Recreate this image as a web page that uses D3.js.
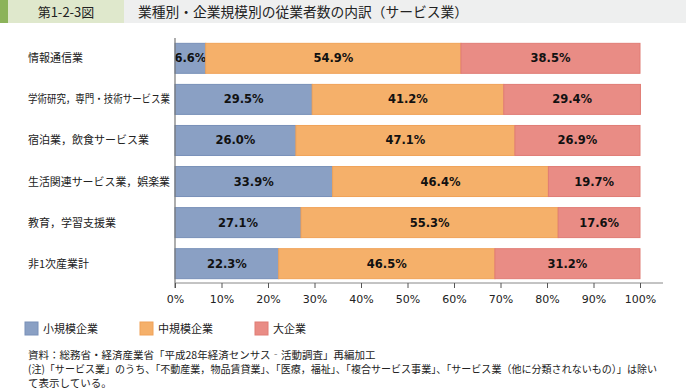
<!DOCTYPE html>
<html>
<head>
<meta charset="utf-8">
<script src="https://cdn.jsdelivr.net/npm/d3@7"></script>
<style>
  body { margin: 0; background: #fff; }
  svg { display: block; font-family: "Noto Sans CJK JP", "Noto Sans", sans-serif; }
</style>
</head>
<body>
<svg id="chart" width="686" height="392"></svg>
<script>
// data
const categories = ["情報通信業", "学術研究，専門・技術サービス業", "宿泊業，飲食サービス業",
  "生活関連サービス業，娯楽業", "教育，学習支援業", "非1次産業計"];
const small = [6.6, 29.5, 26.0, 33.9, 27.1, 22.3];
const medium = [54.9, 41.2, 47.1, 46.4, 55.3, 46.5];
const large = [38.5, 29.4, 26.9, 19.7, 17.6, 31.2];
const seriesNames = ["小規模企業", "中規模企業", "大企業"];
const colors = ["#8aa0c4", "#f5b06a", "#e98c85"];
const strokes = ["#7890b8", "#f0a258", "#e07c75"];
const ticks = [0, 10, 20, 30, 40, 50, 60, 70, 80, 90, 100];

const svg = d3.select("#chart");

// header
svg.append("rect").attr("x", 0).attr("y", 0).attr("width", 686).attr("height", 23).attr("fill", "#eeefef");
svg.append("rect").attr("x", 0).attr("y", 0).attr("width", 8).attr("height", 23).attr("fill", "#8cb35a");
svg.append("rect").attr("x", 8).attr("y", 0).attr("width", 116).attr("height", 23).attr("fill", "#dfe8cc");
svg.append("text").attr("x", 66).attr("y", 16.5).attr("text-anchor", "middle")
  .attr("font-size", 13).attr("fill", "#222").text("第1-2-3図");
svg.append("text").attr("x", 138).attr("y", 16.5)
  .attr("font-size", 13.5).attr("fill", "#222")
  .attr("textLength", 330).attr("lengthAdjust", "spacingAndGlyphs")
  .text("業種別・企業規模別の従業者数の内訳（サービス業）");

const x = d3.scaleLinear().domain([0, 100]).range([175, 640]);
const y = d3.scaleBand().domain(categories).range([38, 284]).paddingInner(0.27).paddingOuter(0.13);

const rows = categories.map((c, i) => ({ cat: c, vals: [small[i], medium[i], large[i]] }));

const g = svg.append("g");
rows.forEach(r => {
  let acc = 0;
  r.vals.forEach((v, k) => {
    const x0 = x(acc), x1 = x(acc + v);
    g.append("rect")
      .attr("x", x0).attr("y", y(r.cat))
      .attr("width", x1 - x0).attr("height", y.bandwidth())
      .attr("fill", colors[k]).attr("stroke", strokes[k]).attr("stroke-width", 1);
    g.append("text")
      .attr("x", (x0 + x1) / 2).attr("y", y(r.cat) + y.bandwidth() / 2 + 4)
      .attr("text-anchor", "middle").attr("font-size", 11.5).attr("font-weight", "bold")
      .attr("font-family", "DejaVu Sans, sans-serif").attr("fill", "#111")
      .text(v.toFixed(1) + "%");
    acc += v;
  });
  const lab = svg.append("text").attr("x", 28).attr("y", y(r.cat) + y.bandwidth() / 2 + 4)
    .attr("font-size", 11).attr("fill", "#222").text(r.cat);
  // long label is narrower in the original
  if (lab.node().getComputedTextLength() > 142) {
    lab.attr("textLength", 142).attr("lengthAdjust", "spacingAndGlyphs");
  }
});

// axes
svg.append("line").attr("x1", 175).attr("x2", 175).attr("y1", 38).attr("y2", 288)
  .attr("stroke", "#777").attr("stroke-width", 1.2);
svg.append("line").attr("x1", 175).attr("x2", 663).attr("y1", 283).attr("y2", 283)
  .attr("stroke", "#888").attr("stroke-width", 1);
const xAxis = svg.append("g").attr("transform", "translate(0,283)")
  .call(d3.axisBottom(x).tickValues(ticks).tickSize(5).tickFormat(d => d + "%"));
xAxis.select(".domain").remove();
xAxis.selectAll("line").attr("stroke", "#555");
xAxis.selectAll("text").attr("font-size", 11).attr("fill", "#222").attr("dy", "1.1em")
  .attr("font-family", "DejaVu Sans, sans-serif");

// legend
const lx = [25, 140, 255];
seriesNames.forEach((n, k) => {
  svg.append("rect").attr("x", lx[k]).attr("y", 322).attr("width", 13).attr("height", 13)
    .attr("fill", colors[k]).attr("stroke", strokes[k]);
  svg.append("text").attr("x", lx[k] + 18).attr("y", 333).attr("font-size", 11).attr("fill", "#222").text(n);
});

// notes
const notes = ["資料：総務省・経済産業省「平成28年経済センサス‐活動調査」再編加工",
  "(注)「サービス業」のうち、「不動産業，物品賃貸業」、「医療，福祉」、「複合サービス事業」、「サービス業（他に分類されないもの）」は除い",
  "て表示している。"];
notes.forEach((t, i) => {
  const nt = svg.append("text").attr("x", 28).attr("y", 359 + i * 14).attr("font-size", 10.5).attr("fill", "#222").text(t);
  if (i === 1) nt.attr("textLength", 629).attr("lengthAdjust", "spacingAndGlyphs");
});
</script>
</body>
</html>
